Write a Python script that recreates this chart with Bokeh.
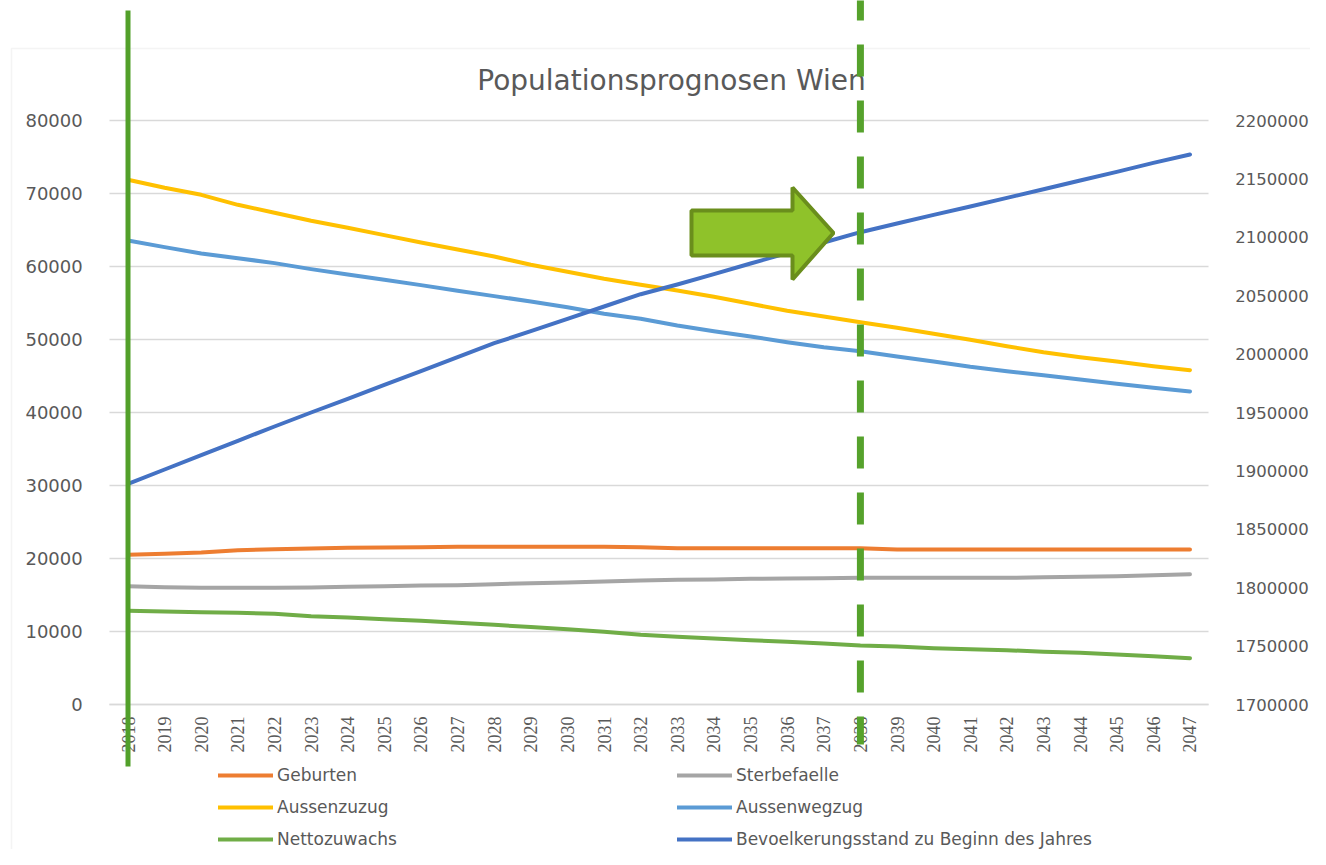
import math
from bokeh.plotting import figure
from bokeh.models import (Range1d, LinearAxis, FixedTicker, NumeralTickFormatter, Grid,
                          Legend, LegendItem, Label, PolyAnnotation, BoxAnnotation)
from bokeh.embed import file_html
from bokeh.resources import INLINE

# ---------------- data ----------------
years = list(range(2018, 2048))
geburten = [20500, 20640, 20820, 21140, 21280, 21370, 21460, 21510, 21550, 21600,
            21600, 21600, 21600, 21600, 21550, 21420, 21420, 21420, 21420, 21420,
            21420, 21230, 21230, 21230, 21230, 21230, 21230, 21230, 21230, 21230]
sterbefaelle = [16210, 16070, 15980, 15980, 15980, 16030, 16120, 16210, 16300, 16350,
                16480, 16620, 16710, 16850, 16980, 17080, 17120, 17210, 17260, 17300,
                17350, 17350, 17350, 17350, 17350, 17440, 17490, 17580, 17710, 17850]
aussenzuzug = [71880, 70780, 69820, 68450, 67360, 66260, 65300, 64300, 63290, 62330,
               61370, 60230, 59270, 58310, 57490, 56710, 55850, 54890, 53930, 53150,
               52370, 51600, 50780, 49960, 49080, 48260, 47570, 46990, 46340, 45800]
aussenwegzug = [63560, 62650, 61780, 61140, 60460, 59640, 58910, 58180, 57450, 56670,
                55940, 55210, 54430, 53520, 52840, 51920, 51140, 50410, 49630, 48950,
                48400, 47670, 46990, 46260, 45660, 45110, 44520, 43930, 43380, 42880]
nettozuwachs = [12830, 12740, 12650, 12560, 12420, 12100, 11920, 11690, 11460, 11190,
                10920, 10600, 10320, 9960, 9550, 9270, 9040, 8810, 8580, 8350,
                8080, 7950, 7720, 7580, 7440, 7210, 7080, 6850, 6620, 6350]
bevoelkerung = [1888950, 1901200, 1913460, 1925770, 1938010, 1950000, 1961710, 1973700,
                1985360, 1997350, 2009330, 2019600, 2030220, 2040750, 2051280, 2059590,
                2068420, 2077570, 2086400, 2095540, 2104370, 2111810, 2119240, 2126370,
                2133800, 2141170, 2148620, 2156060, 2163760, 2170890]

left_ticks = [0, 10000, 20000, 30000, 40000, 50000, 60000, 70000, 80000]
right_ticks = [1700000, 1750000, 1800000, 1850000, 1900000, 1950000, 2000000,
               2050000, 2100000, 2150000, 2200000]
highlight_year = 2038
title_text = "Populationsprognosen Wien"
names = ["Geburten", "Sterbefaelle", "Aussenzuzug", "Aussenwegzug", "Nettozuwachs",
         "Bevoelkerungsstand zu Beginn des Jahres"]
colors = ["#ED7D31", "#A5A5A5", "#FFC000", "#5B9BD5", "#70AD47", "#4472C4"]

# ---------------- geometry (pixel positions in the picture) ----------------
W, H, M = 1310, 849, 0
PX_L, PX_R = 109.2, 1207.8
PY_T, PY_B = 120.0, 704.0

n = len(years)
ppx = (PX_R - PX_L) / n
x_lo, x_hi = years[0] - 0.5, years[-1] + 0.5
x_start = x_lo - (PX_L - M) / ppx
x_end = x_hi + (M + W - PX_R) / ppx


def vrange(lo, hi):
    upp = (hi - lo) / (PY_B - PY_T)
    return lo - (M + H - PY_B) * upp, hi + (PY_T - M) * upp


y_start, y_end = vrange(left_ticks[0], left_ticks[-1])
p_start, p_end = vrange(right_ticks[0], right_ticks[-1])


def px_x(x):
    return x_start + (x - M) / ppx


def px_y(y):
    return y_end - (y - M) * (y_end - y_start) / H


TXT = "#595959"
GRID = "#D9D9D9"
GREEN = "#52A02A"

p = figure(width=W, height=H, output_backend="svg", toolbar_location=None,
           x_range=Range1d(x_start, x_end), y_range=Range1d(y_start, y_end),
           x_axis_location=None, y_axis_location=None, min_border=0)
p.title.visible = False
p.outline_line_color = None
p.background_fill_color = "white"
p.border_fill_color = "white"
p.extra_y_ranges = {"pop": Range1d(p_start, p_end)}
p.center = [r for r in p.center if not isinstance(r, Grid)]

# chart border
p.add_layout(BoxAnnotation(left=px_x(11), top=px_y(48), right=px_x(1400), bottom=px_y(950),
                           fill_color=None, line_color=GRID, line_width=1.5, level="underlay"))

# grid lines
p.add_layout(Grid(dimension=1, ticker=FixedTicker(ticks=left_ticks),
                  bounds=(left_ticks[0], left_ticks[-1]), cross_bounds=(x_lo, x_hi),
                  grid_line_color=GRID, grid_line_width=1.5))

# axes
lax = LinearAxis(fixed_location=x_lo, ticker=FixedTicker(ticks=left_ticks),
                 formatter=NumeralTickFormatter(format="0"))
rax = LinearAxis(fixed_location=x_hi, y_range_name="pop", ticker=FixedTicker(ticks=right_ticks),
                 formatter=NumeralTickFormatter(format="0"))
for ax, so, fs in ((lax, 21, "18px"), (rax, 21, "16.5px")):
    ax.axis_line_color = None
    ax.major_tick_line_color = None
    ax.minor_tick_line_color = None
    ax.major_label_standoff = so
    ax.major_label_text_font = "DejaVu Sans"
    ax.major_label_text_font_size = fs
    ax.major_label_text_color = TXT
p.add_layout(lax, "left")
p.add_layout(rax, "right")

xax = LinearAxis(fixed_location=left_ticks[0], ticker=FixedTicker(ticks=years),
                 bounds=(x_lo, x_hi))
xax.axis_line_color = GRID
xax.axis_line_width = 1.5
xax.major_tick_line_color = None
xax.minor_tick_line_color = None
xax.major_label_orientation = math.pi / 2
xax.major_label_standoff = 6
xax.major_label_text_font = "Liberation Sans Narrow"
xax.major_label_text_font_size = "18px"
xax.major_label_text_color = TXT
p.add_layout(xax, "below")

# series
left_series = [geburten, sterbefaelle, aussenzuzug, aussenwegzug, nettozuwachs]
rends = []
for vals, c in zip(left_series, colors[:5]):
    rends.append(p.line(years, vals, line_color=c, line_width=4,
                        line_cap="round", line_join="round"))
rends.append(p.line(years, bevoelkerung, y_range_name="pop", line_color=colors[5],
                    line_width=4, line_cap="round", line_join="round"))

# title
p.add_layout(Label(x=px_x(671), y=px_y(80), text=title_text, text_align="center",
                   text_baseline="middle", text_font="DejaVu Sans",
                   text_font_size="28px", text_color=TXT))

# highlight markers
p.segment(x0=[years[0]], y0=[px_y(10)], x1=[years[0]], y1=[px_y(766)],
          line_color=GREEN, line_width=5, level="overlay")
p.segment(x0=[highlight_year], y0=[px_y(M)], x1=[highlight_year], y1=[px_y(744)],
          line_color="#56A22C", line_width=7, line_dash="32 24", line_dash_offset=12,
          level="overlay")

# block arrow
ax_px = [691, 792, 792, 833, 792, 792, 691]
ay_px = [210, 210, 187, 232.5, 279, 255, 255]
p.add_layout(PolyAnnotation(xs=[px_x(v) for v in ax_px], ys=[px_y(v) for v in ay_px],
                            fill_color="#8FC22A", fill_alpha=1.0,
                            line_color="#6A8E1C", line_width=4, line_alpha=1.0))

# legend
legend = Legend(items=[LegendItem(label=nm, renderers=[r]) for nm, r in zip(names, rends)],
                location=(218, 0), orientation="horizontal", ncols=2,
                glyph_width=55, glyph_height=20, label_height=20, label_width=388,
                label_standoff=4, spacing=12, padding=0, margin=0,
                border_line_color=None, background_fill_alpha=0,
                label_text_font="DejaVu Sans", label_text_font_size="17px",
                label_text_color=TXT)
p.add_layout(legend)

open("out.html", "w").write(file_html(p, INLINE))
